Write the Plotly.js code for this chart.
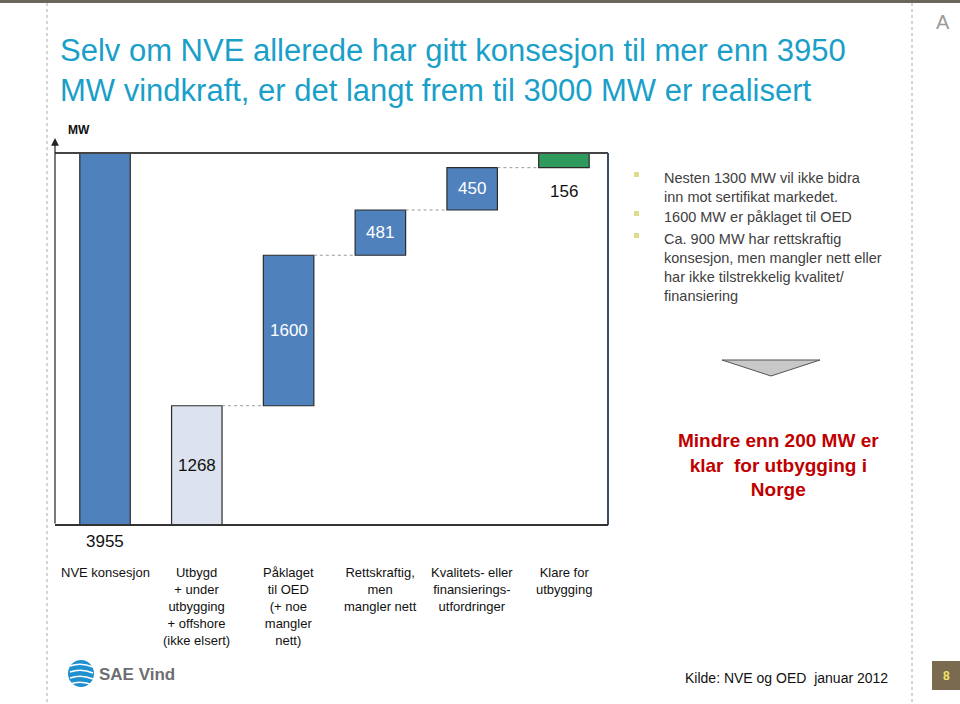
<!DOCTYPE html>
<html><head><meta charset="utf-8">
<script src="https://cdn.plot.ly/plotly-3.0.1.min.js"></script>
<style>html,body{margin:0;padding:0;background:#fff;}#chart{width:960px;height:704px;}</style>
</head><body><div id="chart"></div>
<script>
// ---- data ----
const categories = ["NVE konsesjon","Utbygd<br>+ under<br>utbygging<br>+ offshore<br>(ikke elsert)","Påklaget<br>til OED<br>(+ noe<br>mangler<br>nett)","Rettskraftig,<br>men<br>mangler nett","Kvalitets- eller<br>finansierings-<br>utfordringer","Klare for<br>utbygging"];
const values = [3955, 1268, 1600, 481, 450, 156];
const barColors = ["#4F81BD","#DCE3EF","#4F81BD","#4F81BD","#4F81BD","#2E9A5C"];
const labelColors = ["#111","#111","#fff","#fff","#fff","#111"];
const titleText = "Selv om NVE allerede har gitt konsesjon til mer enn 3950<br>MW vindkraft, er det langt frem til 3000 MW er realisert";
const bullets = ["Nesten 1300 MW vil ikke bidra<br>inn mot sertifikat markedet.","1600 MW er påklaget til OED","Ca. 900 MW har rettskraftig<br>konsesjon, men mangler nett eller<br>har ikke tilstrekkelig kvalitet/<br>finansiering"];
const conclusion = "Mindre enn 200 MW er<br>klar  for utbygging i<br>Norge";
const source = "Kilde: NVE og OED  januar 2012";

// ---- derived bases (first bar from 0, rest stack from 0 upward) ----
const bases = [];
let run = 0;
values.forEach((v,i)=>{ if(i===0){bases.push(0);} else {bases.push(run); run += v;} });
const xs = categories.map((c,i)=>i);

// pixel helpers
const L=55,R=608,T=153,B=525;
const px = x => (x-L)/(R-L);
const py = y => (B-y)/(B-T);
const FONT = 'Liberation Sans, Arial, sans-serif';

const trace = {
  type:'bar', x: xs, y: values, base: bases, width: 0.55,
  marker:{color: barColors, line:{color:'#2b2b2b', width:1.2}},
  hoverinfo:'none', showlegend:false
};

const annotations = [];
// title
annotations.push({x:px(58), y:py(31), xref:'paper', yref:'paper', text:titleText, showarrow:false, xanchor:'left', yanchor:'top', align:'left', font:{size:31,color:'#1a9fc9',family:FONT}});
// value labels
values.forEach((v,i)=>{
  if(i===0){
    annotations.push({x:i, y:py(541), xref:'x', yref:'paper', text:String(v), showarrow:false, font:{size:17,color:'#111',family:FONT}, yanchor:'middle', xanchor:'center'});
  } else if(i===values.length-1){
    annotations.push({x:i, y:bases[i], xref:'x', yref:'y', text:String(v), showarrow:false, font:{size:17,color:'#111',family:FONT}, yanchor:'top', yshift:-12});
  } else {
    annotations.push({x:i, y:bases[i]+v/2, xref:'x', yref:'y', text:String(v), showarrow:false, font:{size:17,color:labelColors[i],family:FONT}});
  }
});
// category labels
categories.forEach((c,i)=>{
  annotations.push({x:i, y:py(563), xref:'x', yref:'paper', text:c, showarrow:false, yanchor:'top', xanchor:'center', align:'center', font:{size:13,color:'#111',family:FONT}});
});
// MW label
annotations.push({x:px(66), y:py(130), xref:'paper', yref:'paper', text:'<b>MW</b>', showarrow:false, xanchor:'left', yanchor:'middle', font:{size:12,color:'#111',family:FONT}});
// y arrow
annotations.push({x:px(55), y:py(138), ax:px(55), ay:py(525), xref:'paper', yref:'paper', axref:'paper', ayref:'paper', text:'', showarrow:true, arrowhead:2, arrowsize:1.3, arrowwidth:1.2, arrowcolor:'#222'});
// bullets
const bulletY=[177,216,238];
bullets.forEach((b,i)=>{
  annotations.push({x:px(662), y:py(bulletY[i]-9), xref:'paper', yref:'paper', text:b, showarrow:false, xanchor:'left', yanchor:'top', align:'left', font:{size:14.5,color:'#404040',family:FONT}});
});
// conclusion
annotations.push({x:px(778), y:py(428), xref:'paper', yref:'paper', text:'<b>'+conclusion+'</b>', showarrow:false, xanchor:'center', yanchor:'top', align:'center', font:{size:19,color:'#C00000',family:FONT}});
// source
annotations.push({x:px(890), y:py(678), xref:'paper', yref:'paper', text:source, showarrow:false, xanchor:'right', yanchor:'middle', font:{size:14,color:'#111',family:FONT}});
// logo text
annotations.push({x:px(97), y:py(674), xref:'paper', yref:'paper', text:'<b>SAE Vind</b>', showarrow:false, xanchor:'left', yanchor:'middle', font:{size:17,color:'#6d6e71',family:FONT}});
// A and page no
annotations.push({x:px(943), y:py(22), xref:'paper', yref:'paper', text:'A', showarrow:false, xanchor:'center', yanchor:'middle', font:{size:20,color:'#9a9a9a',family:FONT}});
annotations.push({x:px(946), y:py(676), xref:'paper', yref:'paper', text:'<b>8</b>', showarrow:false, xanchor:'center', yanchor:'middle', font:{size:12,color:'#f2e36a',family:FONT}});

const shapes = [];
// frame
shapes.push({type:'line', xref:'paper', yref:'paper', x0:0, x1:1, y0:1, y1:1, line:{color:'#444',width:2}});
shapes.push({type:'line', xref:'paper', yref:'paper', x0:1, x1:1, y0:0, y1:1, line:{color:'#3a4b66',width:2}});
shapes.push({type:'line', xref:'paper', yref:'paper', x0:0, x1:1, y0:0, y1:0, line:{color:'#333',width:2}});
// connectors
for(let i=0;i<values.length-1;i++){
  const yv = i===0 ? 0 : bases[i]+values[i];
  shapes.push({type:'line', xref:'x', yref:'y', x0:i+0.275, x1:i+1-0.275, y0:yv, y1:yv, line:{color: i===0?'#333':'#999', width: i===0?2:1, dash:'dot'}});
}
// top bar
shapes.push({type:'rect', xref:'paper', yref:'paper', x0:px(0), x1:px(960), y0:py(0), y1:py(3), fillcolor:'#6b655c', line:{width:0}});
// dashed side lines
shapes.push({type:'line', xref:'paper', yref:'paper', x0:px(47), x1:px(47), y0:py(3), y1:py(704), line:{color:'#aaa',width:1,dash:'dot'}});
shapes.push({type:'line', xref:'paper', yref:'paper', x0:px(912), x1:px(912), y0:py(3), y1:py(704), line:{color:'#aaa',width:1,dash:'dot'}});
// bullet squares
bulletY.forEach(y=>{
  shapes.push({type:'rect', xref:'paper', yref:'paper', x0:px(634), x1:px(639), y0:py(y-5), y1:py(y), fillcolor:'#dcdc8c', line:{width:0}});
});
// chevron
shapes.push({type:'path', xref:'paper', yref:'paper',
  path:`M ${px(722)} ${py(360)} L ${px(820)} ${py(360)} L ${px(771)} ${py(376)} Z`,
  fillcolor:'#c8c8c8', line:{color:'#555',width:1}});
// page number box
shapes.push({type:'rect', xref:'paper', yref:'paper', x0:px(932), x1:px(960), y0:py(661), y1:py(690), fillcolor:'#7a6a4f', line:{width:0}});
// logo circle
shapes.push({type:'circle', xref:'paper', yref:'paper', x0:px(68), x1:px(94), y0:py(660), y1:py(687), fillcolor:'#1e8fcf', line:{width:0}});
[666,672,678,684].forEach((y,k)=>{
  shapes.push({type:'path', xref:'paper', yref:'paper',
    path:`M ${px(70)} ${py(y)} Q ${px(81)} ${py(y-4)} ${px(93)} ${py(y+1)}`,
    line:{color:'#ffffff',width:1.6}});
});

const layout = {
  width:960, height:704,
  margin:{l:L, r:960-R, t:T, b:704-B, pad:0},
  paper_bgcolor:'#fff', plot_bgcolor:'#fff',
  xaxis:{range:[-0.545,5.48], showticklabels:false, showgrid:false, zeroline:false, showline:false, ticks:''},
  yaxis:{range:[0,3955], showticklabels:false, showgrid:false, zeroline:false, showline:false, ticks:''},
  annotations, shapes, bargap:0
};
Plotly.newPlot('chart',[trace],layout,{staticPlot:true});
</script></body></html>
